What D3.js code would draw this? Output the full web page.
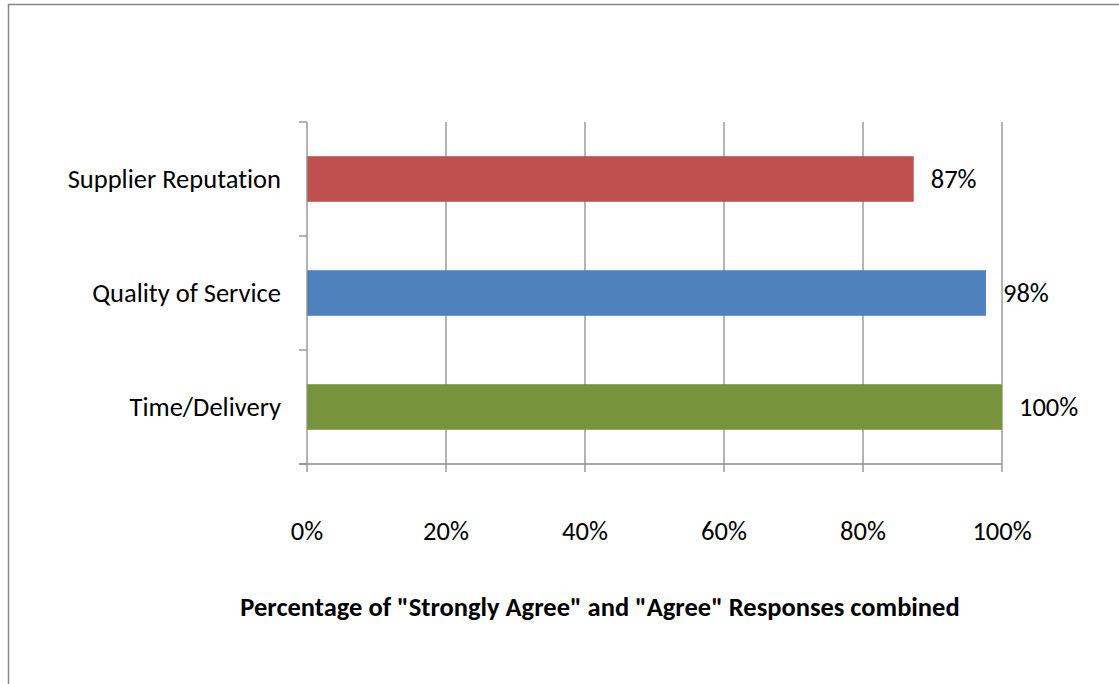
<!DOCTYPE html>
<html><head><meta charset="utf-8">
<script src="https://cdn.jsdelivr.net/npm/d3@7"></script>
<style>
html,body{margin:0;padding:0;background:#fff;}
svg{display:block;}
text{font-family:Carlito, Lato, "Open Sans", sans-serif;fill:#000;font-variant-ligatures:none;}
</style></head>
<body>
<script>
const categories = ["Supplier Reputation", "Quality of Service", "Time/Delivery"];
const values = [0.873, 0.977, 1.0];
const valueLabels = ["87%", "98%", "100%"];
const colors = ["#C0504D", "#4F81BD", "#77933C"];
const xTicks = [0, 0.2, 0.4, 0.6, 0.8, 1.0];
const xTitle = "Percentage of \"Strongly Agree\" and \"Agree\" Responses combined";

(function () {
const W = 1119, H = 684;
const FS = 26.5;
const svg = d3.select("body").append("svg").attr("width", W).attr("height", H);

// outer frame
svg.append("rect").attr("x", 8.5).attr("y", 4.5).attr("width", 1200).attr("height", 800)
  .attr("fill", "none").attr("stroke", "#868686").attr("stroke-width", 1.5);

const pLeft = 307, pRight = 1002, pTop = 122, pBottom = 464;
const x = d3.scaleLinear().domain([0, 1]).range([pLeft, pRight]);
const y = d3.scaleBand().domain(categories).range([pTop, pBottom]).paddingInner(0.6).paddingOuter(0.3);
const yb = d3.scaleBand().domain(categories).range([pTop, pBottom]);

const gridColor = "#8c8c8c";
// gridlines
svg.append("g").selectAll("line").data(xTicks.slice(1)).join("line")
  .attr("x1", d => x(d)).attr("x2", d => x(d)).attr("y1", pTop).attr("y2", pBottom + 8)
  .attr("stroke", gridColor).attr("stroke-width", 1.3);

// bars
svg.append("g").selectAll("rect").data(categories).join("rect")
  .attr("x", x(0)).attr("y", d => y(d)).attr("height", y.bandwidth())
  .attr("width", (d, i) => x(values[i]) - x(0)).attr("fill", (d, i) => colors[i]);

// y axis line + ticks
svg.append("line").attr("x1", pLeft).attr("x2", pLeft).attr("y1", pTop).attr("y2", pBottom + 8)
  .attr("stroke", gridColor).attr("stroke-width", 1.3);
const yTickPos = [pTop].concat(categories.map(c => yb(c) + yb.bandwidth()));
svg.append("g").selectAll("line").data(yTickPos).join("line")
  .attr("x1", pLeft - 8).attr("x2", pLeft).attr("y1", d => d).attr("y2", d => d)
  .attr("stroke", gridColor).attr("stroke-width", 1.3);
// x axis line
svg.append("line").attr("x1", pLeft - 8).attr("x2", pRight).attr("y1", pBottom).attr("y2", pBottom)
  .attr("stroke", gridColor).attr("stroke-width", 1.3);

// category labels
svg.append("g").selectAll("text").data(categories).join("text")
  .attr("x", 281).attr("y", d => yb(d) + yb.bandwidth() / 2).attr("dy", "0.35em")
  .attr("text-anchor", "end").attr("font-size", FS).text(d => d);

// tick labels
svg.append("g").selectAll("text").data(xTicks).join("text")
  .attr("x", d => x(d)).attr("y", 531).attr("dy", "0.35em")
  .attr("text-anchor", "middle").attr("font-size", FS).text(d3.format(".0%"));

// value labels
svg.append("g").selectAll("text").data(categories).join("text")
  .attr("x", (d, i) => x(values[i]) + 17).attr("y", d => yb(d) + yb.bandwidth() / 2).attr("dy", "0.35em")
  .attr("font-size", FS).text((d, i) => valueLabels[i]);

// axis title
svg.append("text").attr("x", 600).attr("y", 607).attr("dy", "0.35em")
  .attr("text-anchor", "middle").attr("font-size", FS).attr("font-weight", "bold").text(xTitle);
})();
</script>
</body></html>
